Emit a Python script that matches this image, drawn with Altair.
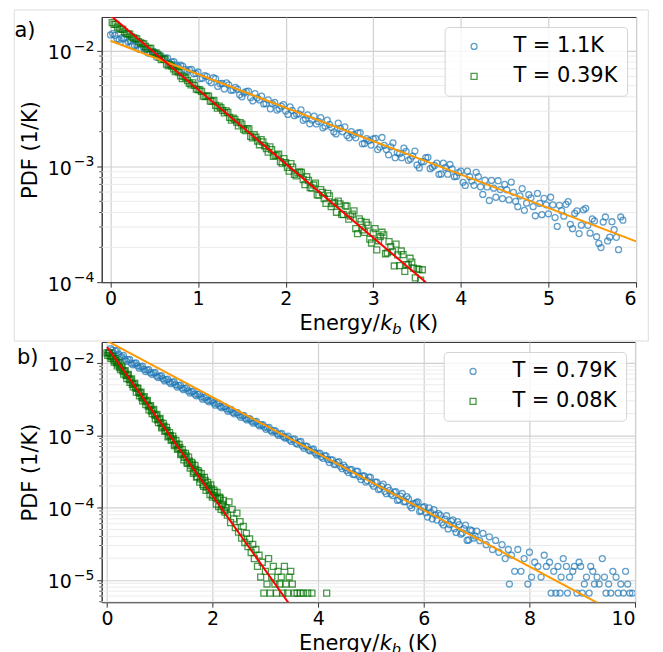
import altair as alt
import pandas as pd

# ---------------- panel a) data ----------------
a_labels = ["T = 1.1K", "T = 0.39K"]
a_blue_x = [0.00, 0.05, 0.10, 0.15, 0.20, 0.25, 0.30, 0.35, 0.40, 0.45,
            0.50, 0.55, 0.60, 0.65, 0.70, 0.75, 0.80, 0.85, 0.90, 0.95,
            1.00, 1.05, 1.10, 1.15, 1.20, 1.25, 1.30, 1.35, 1.40, 1.45,
            1.50, 1.55, 1.60, 1.65, 1.70, 1.75, 1.80, 1.85, 1.90, 1.95,
            2.00, 2.05, 2.10, 2.15, 2.20, 2.25, 2.30, 2.35, 2.40, 2.45,
            2.50, 2.55, 2.60, 2.65, 2.70, 2.75, 2.80, 2.85, 2.90, 2.95,
            3.00, 3.05, 3.10, 3.15, 3.20, 3.25, 3.30, 3.35, 3.40, 3.45,
            3.50, 3.55, 3.60, 3.65, 3.70, 3.75, 3.80, 3.85, 3.90, 3.95,
            4.00, 4.05, 4.10, 4.15, 4.20, 4.25, 4.30, 4.35, 4.40, 4.45,
            4.50, 4.55, 4.60, 4.65, 4.70, 4.75, 4.80, 4.85, 4.90, 4.95,
            5.00, 5.05, 5.10, 5.15, 5.20, 5.25, 5.30, 5.35, 5.40, 5.45,
            5.50, 5.55, 5.60, 5.65, 5.70, 5.75, 5.80, 5.85,
            0.025, 0.075, 0.125, 0.175, 0.225, 0.275, 0.325, 0.375, 0.425, 0.475,
            0.525, 0.575, 0.625, 0.675, 0.725, 0.775, 0.825, 0.875, 0.925, 0.975,
            1.025, 1.075, 1.125, 1.175, 1.225, 1.275, 1.325, 1.375, 1.425, 1.475,
            1.525, 1.575, 1.625, 1.675, 1.725, 1.775, 1.825, 1.875, 1.925, 1.975,
            2.025, 2.075, 2.125, 2.175, 2.225, 2.275, 2.325, 2.375, 2.425, 2.475,
            2.525, 2.575, 2.625, 2.675, 2.725, 2.775, 2.825, 2.875, 2.925, 2.975,
            3.025, 3.075, 3.125, 3.175, 3.225, 3.275, 3.325, 3.375, 3.425, 3.475,
            3.525, 3.575, 3.625, 3.675, 3.725, 3.775, 3.825, 3.875, 3.925, 3.975,
            4.025, 4.075, 4.125, 4.175, 4.225, 4.275, 4.325, 4.375, 4.425, 4.475,
            4.525, 4.575, 4.625, 4.675, 4.725, 4.775, 4.825, 4.875, 4.925, 4.975,
            5.025, 5.075, 5.125, 5.175, 5.225, 5.275, 5.325, 5.375, 5.425, 5.475,
            5.525, 5.575, 5.625, 5.675, 5.725, 5.775, 5.825]
a_blue_y = [0.0137, 0.0136, 0.0125, 0.0127, 0.0120, 0.0111, 0.0112, 0.0104, 0.0102, 0.00946,
            0.00980, 0.00906, 0.00857, 0.00867, 0.00802, 0.00757, 0.00750, 0.00692, 0.00686, 0.00633,
            0.00656, 0.00579, 0.00600, 0.00530, 0.00574, 0.00519, 0.00468, 0.00508, 0.00458, 0.00465,
            0.00400, 0.00445, 0.00393, 0.00426, 0.00376, 0.00347, 0.00377, 0.00348, 0.00307, 0.00333,
            0.00301, 0.00327, 0.00275, 0.00285, 0.00251, 0.00279, 0.00252, 0.00233, 0.00264, 0.00223,
            0.00231, 0.00199, 0.00237, 0.00200, 0.00185, 0.00200, 0.00177, 0.00196, 0.00158, 0.00167,
            0.00173, 0.00140, 0.00178, 0.00140, 0.00148, 0.00119, 0.00129, 0.00144, 0.00113, 0.00123,
            0.00103, 0.00110, 0.00119, 0.000957, 0.00102, 0.000855, 0.00107, 0.000857, 0.000953, 0.000820,
            0.000912, 0.000685, 0.000815, 0.000687, 0.000817, 0.000573, 0.000665, 0.000757, 0.000542, 0.000631,
            0.000700, 0.000514, 0.000598, 0.000449, 0.000643, 0.000482, 0.000536, 0.000375, 0.000479, 0.000531,
            0.000390, 0.000465, 0.000303, 0.000415, 0.000471, 0.000316, 0.000393, 0.000263, 0.000422, 0.000310,
            0.000352, 0.000247, 0.000199, 0.000366, 0.000245, 0.000284, 0.000191, 0.000343,
            0.0141, 0.0127, 0.0129, 0.0116, 0.0121, 0.0111, 0.0103, 0.0107, 0.00962, 0.00975,
            0.00879, 0.00912, 0.00863, 0.00778, 0.00807, 0.00728, 0.00738, 0.00665, 0.00690, 0.00637,
            0.00575, 0.00611, 0.00551, 0.00585, 0.00492, 0.00522, 0.00528, 0.00456, 0.00483, 0.00417,
            0.00432, 0.00448, 0.00369, 0.00391, 0.00406, 0.00349, 0.00315, 0.00358, 0.00316, 0.00343,
            0.00282, 0.00306, 0.00283, 0.00308, 0.00259, 0.00234, 0.00272, 0.00245, 0.00216, 0.00252,
            0.00217, 0.00191, 0.00213, 0.00220, 0.00177, 0.00188, 0.00195, 0.00157, 0.00174, 0.00153,
            0.00175, 0.00147, 0.00152, 0.00126, 0.00160, 0.00132, 0.00119, 0.00135, 0.00116, 0.00136,
            0.000971, 0.00110, 0.00120, 0.000986, 0.00107, 0.000861, 0.000980, 0.00104, 0.000817, 0.000885,
            0.000730, 0.000910, 0.000748, 0.000891, 0.000668, 0.000760, 0.000508, 0.000649, 0.000753, 0.000528,
            0.000628, 0.000731, 0.000500, 0.000556, 0.000418, 0.000570, 0.000449, 0.000585, 0.000383, 0.000466,
            0.000542, 0.000362, 0.000462, 0.000372, 0.000497, 0.000290, 0.000414, 0.000311, 0.000435, 0.000265,
            0.000338, 0.000216, 0.000331, 0.000227, 0.000333, 0.000244, 0.000366]
a_green_x = [0.04, 0.08, 0.12, 0.16, 0.20, 0.24, 0.28, 0.32, 0.36, 0.40,
             0.44, 0.48, 0.52, 0.56, 0.60, 0.64, 0.68, 0.72, 0.76, 0.80,
             0.84, 0.88, 0.92, 0.96, 1.00, 1.04, 1.08, 1.12, 1.16, 1.20,
             1.24, 1.28, 1.32, 1.36, 1.40, 1.44, 1.48, 1.52, 1.56, 1.60,
             1.64, 1.68, 1.72, 1.76, 1.80, 1.84, 1.88, 1.92, 1.96, 2.00,
             2.04, 2.08, 2.12, 2.16, 2.20, 2.24, 2.28, 2.32, 2.36, 2.40,
             2.44, 2.48, 2.52, 2.56, 2.60, 2.64, 2.68, 2.72, 2.76, 2.80,
             2.84, 2.88, 2.92, 2.96, 3.00, 3.04, 3.08, 3.12, 3.16, 3.20,
             3.24, 3.28, 3.32, 3.36, 3.40, 3.44, 3.48, 3.52, 3.56,
             0.02, 0.06, 0.10, 0.14, 0.18, 0.22, 0.26, 0.30, 0.34, 0.38,
             0.42, 0.46, 0.50, 0.54, 0.58, 0.62, 0.66, 0.70, 0.74, 0.78,
             0.82, 0.86, 0.90, 0.94, 0.98, 1.02, 1.06, 1.10, 1.14, 1.18,
             1.22, 1.26, 1.30, 1.34, 1.38, 1.42, 1.46, 1.50, 1.54, 1.58,
             1.62, 1.66, 1.70, 1.74, 1.78, 1.82, 1.86, 1.90, 1.94, 1.98,
             2.02, 2.06, 2.10, 2.14, 2.18, 2.22, 2.26, 2.30, 2.34, 2.38,
             2.42, 2.46, 2.50, 2.54, 2.58, 2.62, 2.66, 2.70, 2.74, 2.78,
             2.82, 2.86, 2.90, 2.94, 2.98, 3.02, 3.06, 3.10, 3.14, 3.18,
             3.22, 3.26, 3.30, 3.34, 3.38, 3.42, 3.46, 3.50, 3.54]
a_green_y = [0.0169, 0.0160, 0.0154, 0.0146, 0.0140, 0.0132, 0.0128, 0.0120, 0.0116, 0.0109,
             0.0105, 0.00973, 0.00959, 0.00885, 0.00853, 0.00767, 0.00759, 0.00698, 0.00675, 0.00607,
             0.00598, 0.00552, 0.00508, 0.00502, 0.00462, 0.00446, 0.00402, 0.00406, 0.00366, 0.00337,
             0.00332, 0.00306, 0.00302, 0.00266, 0.00262, 0.00242, 0.00239, 0.00210, 0.00212, 0.00182,
             0.00188, 0.00166, 0.00171, 0.00151, 0.00133, 0.00140, 0.00124, 0.00128, 0.00107, 0.00108,
             0.000910, 0.000986, 0.000828, 0.000897, 0.000771, 0.000815, 0.000655, 0.000692, 0.000569, 0.000630,
             0.000528, 0.000586, 0.000449, 0.000486, 0.000502, 0.000385, 0.000457, 0.000350, 0.000388, 0.000290,
             0.000352, 0.000283, 0.000328, 0.000235, 0.000266, 0.000190, 0.000248, 0.000256, 0.000179, 0.000203,
             0.000138, 0.000172, 0.000186, 0.000124, 0.000141, 0.000149, 0.000109, 0.000129, 0.000128,
             0.0175, 0.0169, 0.0155, 0.0153, 0.0141, 0.0139, 0.0129, 0.0127, 0.0117, 0.0115,
             0.0104, 0.0105, 0.00944, 0.00931, 0.00839, 0.00847, 0.00746, 0.00736, 0.00662, 0.00655,
             0.00575, 0.00582, 0.00524, 0.00528, 0.00466, 0.00459, 0.00405, 0.00408, 0.00367, 0.00372,
             0.00319, 0.00323, 0.00290, 0.00293, 0.00252, 0.00255, 0.00224, 0.00232, 0.00204, 0.00211,
             0.00177, 0.00179, 0.00154, 0.00163, 0.00143, 0.00148, 0.00122, 0.00126, 0.00110, 0.00117,
             0.000982, 0.00106, 0.000853, 0.000881, 0.000891, 0.000698, 0.000757, 0.000650, 0.000719, 0.000565,
             0.000597, 0.000480, 0.000556, 0.000478, 0.000402, 0.000476, 0.000383, 0.000454, 0.000372, 0.000413,
             0.000263, 0.000335, 0.000269, 0.000311, 0.000218, 0.000290, 0.000228, 0.000270, 0.000176, 0.000224,
             0.000184, 0.000213, 0.000139, 0.000173, 0.000142, 0.000161, 0.000132, 0.000130, 0.000104]
a_fit_blue_x = [0.0, 6.0]
a_fit_blue_y = [0.0122, 0.000225]
a_fit_green_x = [0.0, 3.6]
a_fit_green_y = [0.0202, 0.000100]
a_xticks = [0, 1, 2, 3, 4, 5, 6]
a_yticks = [1e-4, 1e-3, 1e-2]
a_yexp = ["−4", "−3", "−2"]
a_minor = [2e-4, 3e-4, 4e-4, 5e-4, 6e-4, 7e-4, 8e-4, 9e-4,
           2e-3, 3e-3, 4e-3, 5e-3, 6e-3, 7e-3, 8e-3, 9e-3]

# ---------------- panel b) data ----------------
b_labels = ["T = 0.79K", "T = 0.08K"]
b_blue_x = [0.04, 0.10, 0.16, 0.22, 0.28, 0.34, 0.40, 0.46, 0.52, 0.58,
            0.64, 0.70, 0.76, 0.82, 0.88, 0.94, 1.00, 1.06, 1.12, 1.18,
            1.24, 1.30, 1.36, 1.42, 1.48, 1.54, 1.60, 1.66, 1.72, 1.78,
            1.84, 1.90, 1.96, 2.02, 2.08, 2.14, 2.20, 2.26, 2.32, 2.38,
            2.44, 2.50, 2.56, 2.62, 2.68, 2.74, 2.80, 2.86, 2.92, 2.98,
            3.04, 3.10, 3.16, 3.22, 3.28, 3.34, 3.40, 3.46, 3.52, 3.58,
            3.64, 3.70, 3.76, 3.82, 3.88, 3.94, 4.00, 4.06, 4.12, 4.18,
            4.24, 4.30, 4.36, 4.42, 4.48, 4.54, 4.60, 4.66, 4.72, 4.78,
            4.84, 4.90, 4.96, 5.02, 5.08, 5.14, 5.20, 5.26, 5.32, 5.38,
            5.44, 5.50, 5.56, 5.62, 5.68, 5.74, 5.80, 5.86, 5.92, 5.98,
            6.04, 6.10, 6.16, 6.22, 6.28, 6.34, 6.40, 6.46, 6.52, 6.58,
            6.64, 6.70, 6.76, 6.82, 6.88, 6.94, 7.00,
            7.06, 7.12, 7.18, 7.24, 7.30, 7.36, 7.42, 7.48, 7.54, 7.60,
            7.62, 7.66, 7.72, 7.78, 7.84, 7.90, 7.97, 8.00, 8.04, 8.10,
            8.16, 8.22, 8.28, 8.32, 8.38, 8.41, 8.46, 8.50, 8.54, 8.58,
            8.60, 8.64, 8.70, 8.72, 8.76, 8.82, 8.85, 8.90, 8.94, 8.97,
            9.00, 9.04, 9.08, 9.13, 9.16, 9.20, 9.23, 9.28, 9.32, 9.38,
            9.42, 9.45, 9.50, 9.54, 9.58, 9.64, 9.68, 9.73, 9.78, 9.82,
            9.86, 9.90, 9.95,
            0.07, 0.13, 0.19, 0.25, 0.31, 0.37, 0.43, 0.49, 0.55, 0.61,
            0.67, 0.73, 0.79, 0.85, 0.91, 0.97, 1.03, 1.09, 1.15, 1.21,
            1.27, 1.33, 1.39, 1.45, 1.51, 1.57, 1.63, 1.69, 1.75, 1.81,
            1.87, 1.93, 1.99, 2.05, 2.11, 2.17, 2.23, 2.29, 2.35, 2.41,
            2.47, 2.53, 2.59, 2.65, 2.71, 2.77, 2.83, 2.89, 2.95, 3.01,
            3.07, 3.13, 3.19, 3.25, 3.31, 3.37, 3.43, 3.49, 3.55, 3.61,
            3.67, 3.73, 3.79, 3.85, 3.91, 3.97, 4.03, 4.09, 4.15, 4.21,
            4.27, 4.33, 4.39, 4.45, 4.51, 4.57, 4.63, 4.69, 4.75, 4.81,
            4.87, 4.93, 4.99, 5.05, 5.11, 5.17, 5.23, 5.29, 5.35, 5.41,
            5.47, 5.53, 5.59, 5.65, 5.71, 5.77, 5.83, 5.89, 5.95, 6.01,
            6.07, 6.13, 6.19, 6.25, 6.31, 6.37, 6.43, 6.49, 6.55, 6.61,
            6.67, 6.73, 6.79, 6.85, 6.91, 6.97]
b_blue_y = [0.0141, 0.0150, 0.0146, 0.0132, 0.0122, 0.0113, 0.0110, 0.00993, 0.00984, 0.00912,
            0.00883, 0.00818, 0.00794, 0.00735, 0.00729, 0.00659, 0.00655, 0.00607, 0.00587, 0.00545,
            0.00540, 0.00500, 0.00485, 0.00449, 0.00446, 0.00412, 0.00400, 0.00371, 0.00367, 0.00340,
            0.00330, 0.00305, 0.00303, 0.00281, 0.00272, 0.00252, 0.00250, 0.00232, 0.00224, 0.00208,
            0.00206, 0.00191, 0.00185, 0.00171, 0.00170, 0.00157, 0.00153, 0.00142, 0.00140, 0.00130,
            0.00126, 0.00117, 0.00116, 0.00105, 0.00104, 0.000962, 0.000933, 0.000865, 0.000877, 0.000776,
            0.000805, 0.000713, 0.000708, 0.000625, 0.000635, 0.000574, 0.000557, 0.000505, 0.000524, 0.000463,
            0.000459, 0.000397, 0.000423, 0.000373, 0.000388, 0.000327, 0.000333, 0.000288, 0.000320, 0.000270,
            0.000274, 0.000226, 0.000264, 0.000213, 0.000226, 0.000178, 0.000199, 0.000168, 0.000191, 0.000154,
            0.000164, 0.000126, 0.000144, 0.000121, 0.000142, 0.000106, 0.000113, 0.000118, 0.0000885, 0.000101,
            0.0000851, 0.0000993, 0.0000698, 0.0000794, 0.0000826, 0.0000621, 0.0000692, 0.0000509, 0.0000650, 0.0000513,
            0.0000640, 0.0000430, 0.0000513, 0.0000352, 0.0000493, 0.0000379, 0.0000474,
            3.50e-5, 4.40e-5, 3.08e-5, 3.96e-5, 2.64e-5, 3.52e-5, 2.42e-5, 3.08e-5, 1.98e-5, 2.64e-5,
            8.8e-6, 2.20e-5, 1.32e-5, 2.64e-5, 1.32e-5, 1.98e-5, 8.8e-6, 2.42e-5, 1.10e-5, 1.76e-5,
            1.54e-5, 1.10e-5, 2.20e-5, 1.54e-5, 1.76e-5, 6.6e-6, 1.32e-5, 6.6e-6, 1.54e-5, 6.6e-6,
            1.10e-5, 1.98e-5, 1.54e-5, 6.6e-6, 1.10e-5, 1.32e-5, 1.54e-5, 6.6e-6, 1.76e-5, 1.54e-5,
            6.6e-6, 8.8e-6, 1.10e-5, 6.6e-6, 1.54e-5, 1.32e-5, 8.8e-6, 1.10e-5, 8.8e-6, 1.98e-5,
            1.10e-5, 6.6e-6, 8.8e-6, 6.6e-6, 1.32e-5, 1.10e-5, 6.6e-6, 8.8e-6, 6.6e-6, 1.32e-5,
            8.8e-6, 6.6e-6, 6.6e-6,
            0.0158, 0.0136, 0.0149, 0.0120, 0.0127, 0.0105, 0.0112, 0.00944, 0.0100, 0.00847,
            0.00902, 0.00760, 0.00809, 0.00698, 0.00743, 0.00628, 0.00667, 0.00564, 0.00598, 0.00518,
            0.00551, 0.00465, 0.00494, 0.00427, 0.00454, 0.00384, 0.00407, 0.00352, 0.00374, 0.00316,
            0.00337, 0.00290, 0.00302, 0.00261, 0.00277, 0.00240, 0.00249, 0.00215, 0.00229, 0.00198,
            0.00206, 0.00177, 0.00189, 0.00163, 0.00169, 0.00147, 0.00156, 0.00135, 0.00140, 0.00121,
            0.00129, 0.00111, 0.00115, 0.000995, 0.00106, 0.000916, 0.000973, 0.000822, 0.000893, 0.000755,
            0.000822, 0.000662, 0.000705, 0.000608, 0.000647, 0.000535, 0.000568, 0.000480, 0.000521, 0.000421,
            0.000458, 0.000395, 0.000431, 0.000347, 0.000361, 0.000305, 0.000339, 0.000286, 0.000318, 0.000245,
            0.000274, 0.000236, 0.000263, 0.000198, 0.000225, 0.000182, 0.000212, 0.000156, 0.000173, 0.000147,
            0.000167, 0.000129, 0.000157, 0.000121, 0.000132, 0.0000991, 0.000115, 0.000120, 0.0000902, 0.000103,
            0.0000740, 0.0000861, 0.0000938, 0.0000673, 0.0000785, 0.0000578, 0.0000773, 0.0000582, 0.0000678, 0.0000455,
            0.0000582, 0.0000448, 0.0000573, 0.0000358, 0.0000480, 0.0000406]
b_green_x = [0.00, 0.03, 0.06, 0.09, 0.12, 0.15, 0.18, 0.21, 0.24, 0.27,
             0.30, 0.33, 0.36, 0.39, 0.42, 0.45, 0.48, 0.51, 0.54, 0.57,
             0.60, 0.63, 0.66, 0.69, 0.72, 0.75, 0.78, 0.81, 0.84, 0.87,
             0.90, 0.93, 0.96, 0.99, 1.02, 1.05, 1.08, 1.11, 1.14, 1.17,
             1.20, 1.23, 1.26, 1.29, 1.32, 1.35, 1.38, 1.41, 1.44, 1.47,
             1.50, 1.53, 1.56, 1.59, 1.62, 1.65, 1.68, 1.71, 1.74, 1.77,
             1.80, 1.83, 1.86, 1.89, 1.92, 1.95, 1.98, 2.01, 2.04, 2.07,
             2.10, 2.13, 2.16, 2.19, 2.22, 2.25,
             2.28, 2.31, 2.34, 2.37, 2.40, 2.43, 2.46, 2.49, 2.52, 2.55,
             2.58, 2.61, 2.64, 2.67, 2.70, 2.73, 2.76, 2.79, 2.82, 2.85,
             2.88, 2.91, 2.94, 2.97, 3.00, 3.03, 3.06, 3.09, 3.12, 3.15,
             3.18, 3.21, 3.24, 3.27, 3.30, 3.33, 3.36, 3.39, 3.42, 3.45,
             3.48, 3.51, 3.55, 3.60, 3.66, 3.72, 3.80, 3.88, 4.16,
             0.015, 0.045, 0.075, 0.105, 0.135, 0.165, 0.195, 0.225, 0.255, 0.285,
             0.315, 0.345, 0.375, 0.405, 0.435, 0.465, 0.495, 0.525, 0.555, 0.585,
             0.615, 0.645, 0.675, 0.705, 0.735, 0.765, 0.795, 0.825, 0.855, 0.885,
             0.915, 0.945, 0.975, 1.005, 1.035, 1.065, 1.095, 1.125, 1.155, 1.185,
             1.215, 1.245, 1.275, 1.305, 1.335, 1.365, 1.395, 1.425, 1.455, 1.485,
             1.515, 1.545, 1.575, 1.605, 1.635, 1.665, 1.695, 1.725, 1.755, 1.785,
             1.815, 1.845, 1.875, 1.905, 1.935, 1.965, 1.995, 2.025, 2.055, 2.085,
             2.115, 2.145, 2.175, 2.205, 2.235]
b_green_y = [0.0138, 0.0138, 0.0125, 0.0122, 0.0114, 0.0108, 0.0101, 0.00964, 0.00877, 0.00855,
             0.00778, 0.00759, 0.00675, 0.00673, 0.00598, 0.00583, 0.00508, 0.00507, 0.00451, 0.00450,
             0.00391, 0.00381, 0.00331, 0.00330, 0.00301, 0.00293, 0.00255, 0.00249, 0.00216, 0.00221,
             0.00192, 0.00187, 0.00163, 0.00166, 0.00148, 0.00131, 0.00134, 0.00117, 0.00116, 0.000989,
             0.000986, 0.000877, 0.000895, 0.000743, 0.000759, 0.000659, 0.000675, 0.000560, 0.000571, 0.000497,
             0.000519, 0.000411, 0.000440, 0.000382, 0.000399, 0.000316, 0.000339, 0.000269, 0.000308, 0.000249,
             0.000261, 0.000197, 0.000237, 0.000192, 0.000200, 0.000152, 0.000182, 0.000148, 0.000162, 0.000112,
             0.000131, 0.000140, 0.0000944, 0.000111, 0.0000918, 0.000100,
             7.9e-5, 1.2e-4, 6.2e-5, 9.5e-5, 7.0e-5, 5.3e-5, 8.4e-5, 4.6e-5, 6.4e-5, 3.8e-5,
             5.5e-5, 3.3e-5, 4.4e-5, 2.9e-5, 3.7e-5, 2.4e-5, 3.1e-5, 1.98e-5, 2.64e-5, 1.54e-5,
             2.2e-5, 1.1e-5, 1.76e-5, 6.6e-6, 1.32e-5, 8.8e-6, 1.98e-5, 6.6e-6, 1.1e-5, 1.54e-5,
             8.8e-6, 6.6e-6, 1.32e-5, 8.8e-6, 1.1e-5, 6.6e-6, 1.54e-5, 8.8e-6, 6.6e-6, 1.1e-5,
             1.32e-5, 8.8e-6, 6.6e-6, 6.6e-6, 6.6e-6, 6.6e-6, 6.6e-6, 6.6e-6, 6.6e-6,
             0.0127, 0.0139, 0.0116, 0.0124, 0.0103, 0.0115, 0.00910, 0.0102, 0.00807, 0.00904,
             0.00701, 0.00785, 0.00608, 0.00697, 0.00540, 0.00604, 0.00468, 0.00524, 0.00396, 0.00444,
             0.00352, 0.00394, 0.00299, 0.00342, 0.00265, 0.00303, 0.00224, 0.00257, 0.00199, 0.00228,
             0.00169, 0.00194, 0.00150, 0.00172, 0.00127, 0.00146, 0.00113, 0.00129, 0.000955, 0.00109,
             0.000849, 0.000973, 0.000719, 0.000843, 0.000638, 0.000748, 0.000541, 0.000634, 0.000458, 0.000562,
             0.000417, 0.000500, 0.000353, 0.000424, 0.000299, 0.000385, 0.000265, 0.000326, 0.000225, 0.000296,
             0.000209, 0.000263, 0.000173, 0.000223, 0.000177, 0.000207, 0.000140, 0.000175, 0.000139, 0.000163,
             0.000103, 0.000135, 0.000107, 0.000126, 0.0000867]
b_fit_blue_x = [0.0, 10.0]
b_fit_blue_y = [0.0202, 2.55e-6]
b_fit_green_x = [0.0, 3.45]
b_fit_green_y = [0.0166, 4.68e-6]
b_xticks = [0, 2, 4, 6, 8, 10]
b_yticks = [1e-5, 1e-4, 1e-3, 1e-2]
b_yexp = ["−5", "−4", "−3", "−2"]
b_minor = [5e-6, 6e-6, 7e-6, 8e-6, 9e-6,
           2e-5, 3e-5, 4e-5, 5e-5, 6e-5, 7e-5, 8e-5, 9e-5,
           2e-4, 3e-4, 4e-4, 5e-4, 6e-4, 7e-4, 8e-4, 9e-4,
           2e-3, 3e-3, 4e-3, 5e-3, 6e-3, 7e-3, 8e-3, 9e-3]

BLUE = "#1f77b4"
GREEN = "#007000"
ORANGE = "#ff9900"
RED = "#ff0000"
FONT = "DejaVu Sans"


def panel(labels, bx, by, gx, gy, fbx, fby, fgx, fgy, xdom, xticks, ydom,
          yticks, yexp, minor, W, H, tag, tag_dx, tag_y, frame):
    pts = pd.DataFrame({
        "x": bx + gx,
        "y": by + gy,
        "s": [labels[0]] * len(bx) + [labels[1]] * len(gx),
    })
    X = alt.X("x:Q", scale=alt.Scale(domain=xdom, nice=False, zero=False),
              axis=alt.Axis(values=xticks, title=None, format="d",
                            labelFontSize=19, labelPadding=2, tickSize=5))
    Y = alt.Y("y:Q", scale=alt.Scale(type="log", domain=ydom, nice=False),
              axis=alt.Axis(values=yticks, labelExpr="'10'", title="PDF (1/K)",
                            titleX=-71, titleY=H / 2, titleAlign="center",
                            titleBaseline="middle", titleAngle=-90,
                            labelFontSize=19, labelPadding=25.5, labelOffset=2,
                            tickSize=5))
    leg = alt.Legend(title=None, orient="none", legendX=W - 192, legendY=10,
                     direction="vertical", labelFontSize=21, labelFont=FONT,
                     labelColor="black", symbolSize=36, symbolStrokeWidth=1.3,
                     padding=9, rowPadding=8, strokeColor="#d3d3d3",
                     fillColor="rgba(255,255,255,0.8)", cornerRadius=4,
                     symbolOffset=10, labelOffset=29, labelLimit=400)
    col = alt.Color("s:N", scale=alt.Scale(domain=labels, range=[BLUE, GREEN]), legend=leg)
    shp = alt.Shape("s:N", scale=alt.Scale(domain=labels, range=["circle", "square"]), legend=leg)

    mdf = pd.DataFrame({"y": minor})
    edf = pd.DataFrame({"y": yticks, "e": yexp})
    one = pd.DataFrame({"k": [0]})

    layers = []
    layers.append(alt.Chart(mdf).mark_rule(stroke="#ebebeb", strokeWidth=1).encode(
        y=Y, x=alt.value(0), x2=alt.value(W)))
    layers.append(alt.Chart(mdf).mark_rule(stroke="#333333", strokeWidth=0.8).encode(
        y=Y, x=alt.value(-2.5), x2=alt.value(0)))
    layers.append(alt.Chart(edf).mark_text(align="right", baseline="middle", fontSize=14,
                                           font=FONT, color="black", dy=-4).encode(
        y=Y, x=alt.value(-7.4), text="e:N"))
    layers.append(alt.Chart(pts).mark_point(filled=False, size=36, strokeWidth=1.3,
                                            clip=True).encode(x=X, y=Y, color=col, shape=shp))
    layers.append(alt.Chart(pd.DataFrame({"x": fbx, "y": fby})).mark_line(
        color=ORANGE, strokeWidth=2, clip=True).encode(x=X, y=Y))
    layers.append(alt.Chart(pd.DataFrame({"x": fgx, "y": fgy})).mark_line(
        color=RED, strokeWidth=2, clip=True).encode(x=X, y=Y))
    if frame:
        layers.append(alt.Chart(one).mark_rect(fillOpacity=0, stroke="#dddddd",
                                               strokeWidth=1).encode(
            x=alt.value(-87.7), x2=alt.value(W + 12.3), y=alt.value(-7), y2=alt.value(H + 59)))
    layers.append(alt.Chart(one).mark_text(align="left", baseline="alphabetic",
                                           fontSize=21, font=FONT, color="black").encode(
        x=alt.value(tag_dx), y=alt.value(tag_y), text=alt.value(tag)))
    # x-axis title: Energy/k_b (K)
    x0 = W / 2 - 69.6
    yb = H + 47.5
    txt = dict(baseline="alphabetic", font=FONT, color="black", align="left")
    layers.append(alt.Chart(one).mark_text(fontSize=21, **txt).encode(
        x=alt.value(x0), y=alt.value(yb), text=alt.value("Energy/")))
    layers.append(alt.Chart(one).mark_text(fontSize=21, fontStyle="italic", **txt).encode(
        x=alt.value(x0 + 81), y=alt.value(yb), text=alt.value("k")))
    layers.append(alt.Chart(one).mark_text(fontSize=14.7, fontStyle="italic", **txt).encode(
        x=alt.value(x0 + 93), y=alt.value(yb + 4.5), text=alt.value("b")))
    layers.append(alt.Chart(one).mark_text(fontSize=21, **txt).encode(
        x=alt.value(x0 + 109), y=alt.value(yb), text=alt.value("(K)")))
    return alt.layer(*layers).properties(width=W, height=H)


pa = panel(a_labels, a_blue_x, a_blue_y, a_green_x, a_green_y,
           a_fit_blue_x, a_fit_blue_y, a_fit_green_x, a_fit_green_y,
           [-0.1, 6], a_xticks, [1e-4, 0.0196], a_yticks, a_yexp, a_minor,
           536, 266, "a)", -87.5, 19.7, True)
pb = panel(b_labels, b_blue_x, b_blue_y, b_green_x, b_green_y,
           b_fit_blue_x, b_fit_blue_y, b_fit_green_x, b_fit_green_y,
           [-0.1, 10], b_xticks, [4.94e-6, 0.0195], b_yticks, b_yexp, b_minor,
           535, 261, "b)", -85, 22.3, False)

chart = alt.vconcat(pa, pb, spacing=60, bounds="flush").resolve_scale(
    x="independent", y="independent", color="independent", shape="independent"
).properties(
    padding={"left": 5, "top": 0, "right": 5, "bottom": 0}
).configure_view(
    stroke="#333333", strokeWidth=1
).configure_axis(
    labelFont=FONT, labelColor="black", titleFont=FONT, titleFontSize=21,
    titleFontWeight="normal", titleColor="black", domainColor="#333333",
    tickColor="#333333", gridColor="#d0d0d0", gridWidth=1.2
)

chart.save("out.html", embed_options={"renderer": "svg", "actions": False})
